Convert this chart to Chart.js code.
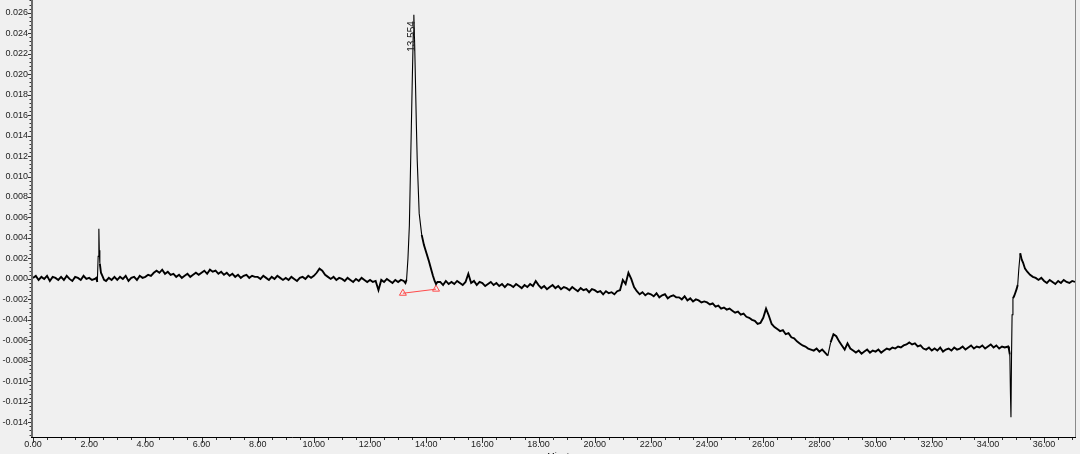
<!DOCTYPE html>
<html>
<head>
<meta charset="utf-8">
<script src="https://cdn.jsdelivr.net/npm/chart.js@4.4.1/dist/chart.umd.min.js"></script>
<style>
  html, body { margin: 0; padding: 0; background: #f0f0f0; }
</style>
</head>
<body>
<canvas id="chromatogram" width="1080" height="454"></canvas>
<script>
// ---- data (signal in units of 0.0001 AU) ----
// baseline samples every 0.1 min from 0.0 to 37.1; null = covered by a detail segment below
const sampleStep = 0.1;
const baseline = [
  1, 3, -1, 2, 0, 3, -2, 2, 1, -1,                 // 0
  2, -1, 3, 0, -2, 2, 1, -1, 3, 0,                 // 1
  1, -1, 0, null, null, null, -2, 1, -1, 2,        // 2
  -1, 2, 0, 3, -2, 1, 2, -1, 3, 1,                 // 3
  2, 4, 3, 6, 8, 6, 9, 5, 7, 4,                    // 4
  5, 2, 4, 1, 3, 5, 2, 4, 6, 4,                    // 5
  6, 8, 5, 9, 7, 8, 5, 7, 4, 6,                    // 6
  3, 5, 2, 4, 1, 3, 4, 1, 3, 2,                    // 7
  2, 0, 3, 1, -1, 2, 0, 3, 1, -1,                  // 8
  1, -1, 2, 0, -2, 1, 2, 0, 3, 1,                  // 9
  3, 6, 10, 8, 4, 2, 0, 2, -1, 1,                  // 10
  0, -2, 1, -1, -3, 0, -2, 1, -1, -3,              // 11
  -1, -3, -2, -11, -1, -3, 0, -2, -4, -1,          // 12
  -3, -1, null, null, null, null, null, null, null, null,   // 13
  null, null, null, null, null, -3, -6, -2, -5, -3,         // 14
  -5, -2, -4, -6, -3, 5, -4, -2, -6, -3,           // 15
  -4, -7, -5, -3, -6, -4, -7, -5, -8, -5,          // 16
  -6, -8, -5, -7, -9, -6, -8, -5, -7, -2,          // 17
  -6, -9, -7, -10, -8, -6, -9, -7, -10, -8,        // 18
  -9, -11, -8, -10, -12, -9, -11, -10, -13, -10,   // 19
  -11, -13, -12, -15, -12, -14, -13, -15, -12, -11, // 20
  -1, -5, 6, 0, -8, -12, -15, -13, -16, -14,       // 21
  -15, -17, -14, -18, -16, -15, -19, -17, -16, -18, // 22
  -18, -20, -17, -21, -19, -22, -20, -21, -23, -22, // 23
  -23, -25, -24, -27, -26, -29, -28, -30, -29, -31, // 24
  -33, -32, -35, -34, -37, -38, -40, -41, -44, -43, // 25
  -38, -29, -36, -44, -47, -49, -51, -50, -54, -53, // 26
  -57, -58, -61, -63, -65, -66, -68, -69, -70, -68, // 27
  -71, -69, -72, -75, -62, -54, -56, -61, -65, -69, // 28
  -63, -68, -70, -72, -70, -73, -71, -69, -72, -70, // 29
  -71, -69, -72, -70, -68, -69, -67, -68, -66, -67, // 30
  -65, -64, -62, -64, -63, -66, -65, -68, -69, -67, // 31
  -70, -68, -70, -67, -71, -69, -68, -70, -67, -69, // 32
  -68, -66, -69, -67, -65, -68, -66, -67, -65, -68, // 33
  -66, -64, -67, -65, -68, -66, -67, null, null, null, // 34
  null, null, null, null, 7, 4, 2, 1, -1, 1,        // 35
  -2, -4, -1, -3, -5, -2, -4, -1, -3, -4,          // 36
  -2, -3                                            // 37
];

// sharp features read at finer resolution
const spikeTimes  = [2.25, 2.29, 2.32, 2.345, 2.36, 2.38, 2.42, 2.47, 2.53];
const spikeValues = [1, -3, 22, 49, 28, 15, 6, 3, -1];

const mainPeakTimes  = [13.2, 13.26, 13.3, 13.35, 13.4, 13.45, 13.5, 13.54, 13.56, 13.59, 13.62, 13.65,
                        13.68, 13.75, 13.84, 13.92, 14.01, 14.1, 14.18, 14.24, 14.3, 14.35, 14.4];
const mainPeakValues = [-2, -4, -1, 20, 52, 120, 189, 240, 258, 228, 189, 150,
                        116, 64, 43, 33, 25, 17, 9, 3, -2, -5, -3];

const endTimes  = [34.72, 34.75, 34.78, 34.8, 34.82, 34.84, 34.86, 34.89, 34.93, 34.97, 35.02, 35.06,
                   35.1, 35.15, 35.2, 35.25, 35.32];
const endValues = [-66, -69, -74, -110, -135, -75, -35, -19, -17, -14, -10, -6,
                   10, 25, 19, 16, 10];

// integration baseline of the main peak (red)
const integrationTimes  = [13.17, 14.35];
const integrationLevels = [-14, -10];

const peakLabel = '13.554';
const peakTime = 13.554;
const peakHeight = 258;

// axis settings
const xMax = 37.1;
const yMin = -0.01544;
const yMax = 0.02724;
const unit = 1e-4;

// ---- build the trace ----
const trace = [];
baseline.forEach((v, i) => {
  if (v !== null) trace.push({ x: +(i * sampleStep).toFixed(2), y: v * unit });
});
[[spikeTimes, spikeValues], [mainPeakTimes, mainPeakValues], [endTimes, endValues]].forEach(([ts, vs]) => {
  ts.forEach((t, i) => trace.push({ x: t, y: vs[i] * unit }));
});
trace.sort((a, b) => a.x - b.x);

const integration = integrationTimes.map((t, i) => ({ x: t, y: integrationLevels[i] * unit }));

const FONT = '"Liberation Sans", Arial, sans-serif';

// noisy baseline drawn heavier, steep peak flanks thin
const segmentWidth = ctx => {
  const dx = Math.abs(ctx.p1.x - ctx.p0.x);
  const dy = Math.abs(ctx.p1.y - ctx.p0.y);
  return dy > dx * 3 && dy > 12 ? 1.1 : 1.9;
};

// background, axis lines, minor ticks, peak label
const frame = {
  id: 'frame',
  beforeDraw(chart) {
    const ctx = chart.ctx;
    ctx.save();
    ctx.fillStyle = '#f0f0f0';
    ctx.fillRect(0, 0, chart.width, chart.height);
    ctx.restore();
  },
  afterDraw(chart) {
    const { ctx, chartArea: a, scales: { x, y } } = chart;
    const line = (x1, y1, x2, y2) => { ctx.beginPath(); ctx.moveTo(x1, y1); ctx.lineTo(x2, y2); ctx.stroke(); };
    ctx.save();

    // right frame
    ctx.strokeStyle = '#8a8a8a';
    ctx.lineWidth = 1;
    line(a.right + 0.5, a.top, a.right + 0.5, a.bottom);

    // y axis line
    ctx.strokeStyle = '#6a6a6a';
    ctx.lineWidth = 2;
    line(a.left - 1, a.top, a.left - 1, a.bottom + 1);

    // x axis line
    ctx.strokeStyle = '#000';
    ctx.lineWidth = 1;
    line(a.left - 2, a.bottom + 0.5, a.right + 1, a.bottom + 0.5);

    // x ticks: major every 2.00, minor every 0.50
    ctx.strokeStyle = '#333';
    for (let k = 0; k * 0.5 <= x.max; k++) {
      const px = Math.round(x.getPixelForValue(k * 0.5)) + 0.5;
      line(px, a.bottom + 1, px, a.bottom + 1 + (k % 4 === 0 ? 5 : 2));
    }
    // y ticks: major every 0.002, minor every 0.0004
    for (let k = Math.ceil(y.min / 0.0004); k * 0.0004 <= y.max; k++) {
      const py = Math.round(y.getPixelForValue(k * 0.0004)) + 0.5;
      line(a.left - 2, py, a.left - 2 - (k % 5 === 0 ? 3 : 1.5), py);
    }

    // peak retention time label
    const lx = x.getPixelForValue(peakTime) - 1;
    const ly = y.getPixelForValue(peakHeight * unit) + 37;
    ctx.translate(lx, ly);
    ctx.rotate(-Math.PI / 2);
    ctx.fillStyle = '#222';
    ctx.font = '10px ' + FONT;
    ctx.textAlign = 'left';
    ctx.textBaseline = 'middle';
    ctx.fillText(peakLabel, 0, 0);
    ctx.setTransform(1, 0, 0, 1, 0, 0);

    // axis titles (mostly outside the picture)
    ctx.fillStyle = '#222';
    ctx.font = '9px ' + FONT;
    ctx.textAlign = 'center';
    ctx.textBaseline = 'top';
    ctx.fillText('Minutes', 563, 452);
    ctx.translate(-2, 215);
    ctx.rotate(-Math.PI / 2);
    ctx.textBaseline = 'middle';
    ctx.fillText('AU', 0, 0);
    ctx.restore();
  }
};

new Chart(document.getElementById('chromatogram'), {
  type: 'line',
  data: {
    datasets: [
      {
        data: trace,
        borderColor: '#000',
        borderWidth: 1.9,
        segment: { borderWidth: segmentWidth },
        pointRadius: 0,
        tension: 0
      },
      {
        data: integration,
        borderColor: '#ff4a4a',
        borderWidth: 1,
        pointStyle: 'triangle',
        pointRadius: 4,
        pointBorderColor: '#ff4a4a',
        pointBackgroundColor: 'rgba(0,0,0,0)',
        pointBorderWidth: 1
      }
    ]
  },
  options: {
    responsive: false,
    animation: false,
    devicePixelRatio: 1,
    layout: { autoPadding: false, padding: { top: 0, right: 5, bottom: 0, left: 0 } },
    plugins: { legend: { display: false }, tooltip: { enabled: false } },
    scales: {
      x: {
        type: 'linear',
        min: 0,
        max: xMax,
        grid: { display: false, drawTicks: false },
        border: { display: false },
        ticks: {
          stepSize: 2,
          includeBounds: false,
          autoSkip: false,
          maxRotation: 0,
          padding: 2,
          color: '#222',
          font: { family: FONT, size: 9 },
          callback: v => v.toFixed(2)
        },
        afterFit: s => { s.height = 17; s.paddingLeft = 0; s.paddingRight = 0; }
      },
      y: {
        type: 'linear',
        min: yMin,
        max: yMax,
        grid: { display: false, drawTicks: false },
        border: { display: false },
        ticks: {
          stepSize: 0.002,
          includeBounds: false,
          autoSkip: false,
          padding: 5,
          color: '#222',
          font: { family: FONT, size: 9 },
          callback: v => (Math.abs(v) < 1e-9 ? 0 : v).toFixed(3)
        },
        afterFit: s => { s.width = 33; s.paddingTop = 0; s.paddingBottom = 0; }
      }
    }
  },
  plugins: [frame]
});
</script>
</body>
</html>
